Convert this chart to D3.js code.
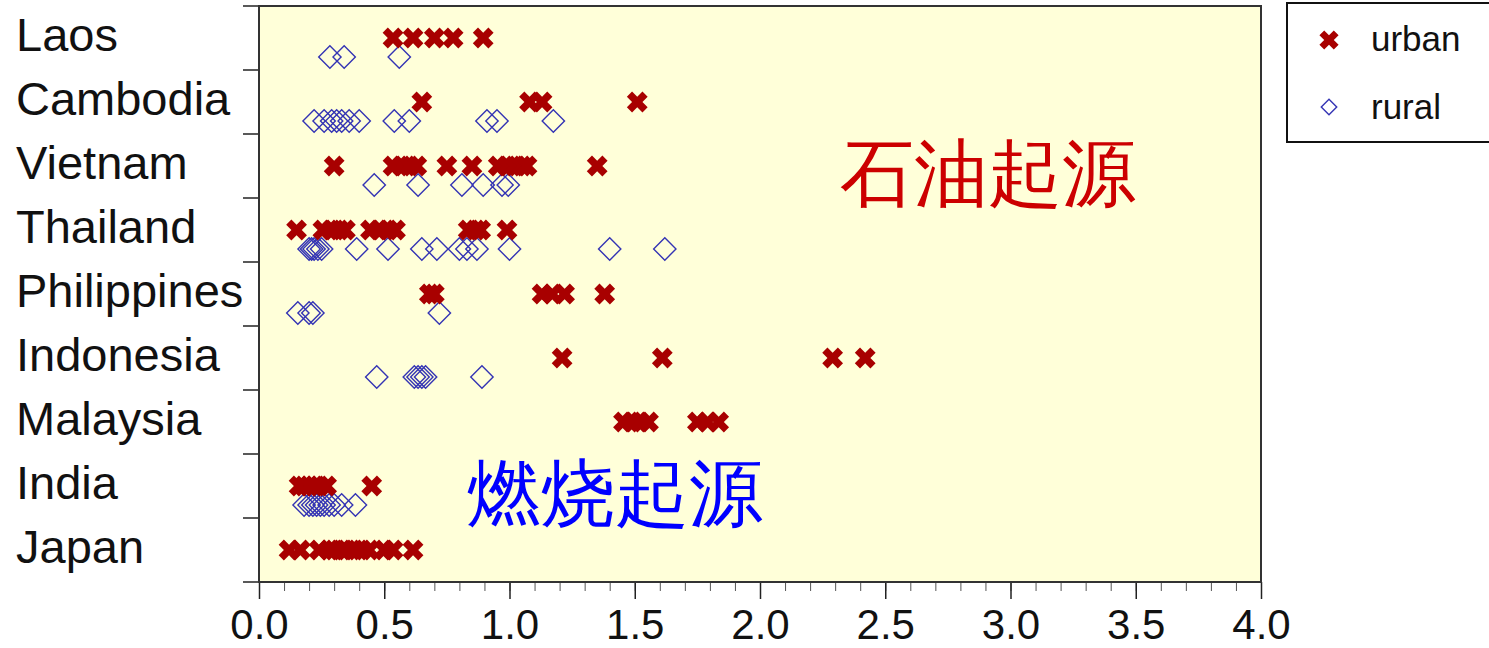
<!DOCTYPE html>
<html>
<head>
<meta charset="utf-8">
<script src="https://cdn.jsdelivr.net/npm/d3@7"></script>
<style>
  body { margin: 0; background: #fff; }
  text { font-family: "Liberation Sans", Arial, sans-serif; }
</style>
</head>
<body>
<div id="chart"></div>
<script>
// categories top to bottom
const countries = ["Laos", "Cambodia", "Vietnam", "Thailand", "Philippines", "Indonesia", "Malaysia", "India", "Japan"];

// urban values per country (same order as countries)
const urbanValues = [
    [0.535, 0.615, 0.70, 0.775, 0.895],
    [0.65, 1.08, 1.13, 1.51],
    [0.30, 0.535, 0.57, 0.60, 0.63, 0.75, 0.85, 0.955, 0.99, 1.02, 1.05, 1.07, 1.35],
    [0.15, 0.255, 0.29, 0.32, 0.345, 0.445, 0.48, 0.515, 0.545, 0.835, 0.865, 0.885, 0.99],
    [0.68, 0.70, 1.13, 1.17, 1.22, 1.38],
    [1.21, 1.61, 2.29, 2.42],
    [1.455, 1.49, 1.52, 1.555, 1.75, 1.79, 1.835],
    [0.16, 0.18, 0.20, 0.22, 0.24, 0.27, 0.45],
    [0.12, 0.165, 0.24, 0.28, 0.30, 0.33, 0.35, 0.38, 0.41, 0.44, 0.50, 0.535, 0.615]
];

// rural values per country
const ruralValues = [
    [0.283, 0.34, 0.56],
    [0.22, 0.26, 0.29, 0.31, 0.33, 0.36, 0.40, 0.54, 0.60, 0.91, 0.95, 1.175],
    [0.46, 0.635, 0.81, 0.895, 0.97, 0.995],
    [0.20, 0.21, 0.22, 0.235, 0.25, 0.39, 0.515, 0.65, 0.71, 0.80, 0.83, 0.87, 1.0, 1.40, 1.62],
    [0.155, 0.20, 0.215, 0.72],
    [0.47, 0.62, 0.635, 0.65, 0.665, 0.89],
    [],
    [0.18, 0.20, 0.215, 0.23, 0.245, 0.26, 0.28, 0.30, 0.33, 0.385],
    []
];

const xTicks = [0, 0.5, 1.0, 1.5, 2.0, 2.5, 3.0, 3.5, 4.0];
const seriesNames = ["urban", "rural"];

// annotations: text, x value, country row
const annotations = [
    {text: "石油起源", x: 2.32, row: "Vietnam", color: "#cc0000"},
    {text: "燃烧起源", x: 0.83, row: "India", color: "#0000ff"}
];

const W = 1489, H = 648;
const plot = {left: 259, right: 1261, top: 6, bottom: 582};

const svg = d3.select("#chart").append("svg")
    .attr("width", W)
    .attr("height", H);

const xScale = d3.scaleLinear().domain([0, 4]).range([plot.left, plot.right]);
const yScale = d3.scaleBand().domain(countries).range([plot.top, plot.bottom]).padding(0);
const seriesOffset = d3.scaleOrdinal().domain(seriesNames).range([0, 19]);

// plot background
svg.append("rect")
    .attr("x", plot.left).attr("y", plot.top)
    .attr("width", plot.right - plot.left).attr("height", plot.bottom - plot.top)
    .attr("fill", "#ffffd9");

// x axis with minor ticks
const xAxisG = svg.append("g").attr("transform", `translate(0, ${plot.bottom})`);
xAxisG.append("g")
    .call(d3.axisBottom(xScale).tickValues(d3.range(0, 4.0001, 0.1)).tickSize(9).tickFormat(""))
    .call(g => g.select(".domain").remove())
    .call(g => g.selectAll("line").attr("stroke", "#555").attr("stroke-width", 1));
xAxisG.append("g")
    .call(d3.axisBottom(xScale).tickValues(xTicks).tickSize(17).tickPadding(10).tickFormat(d3.format(".1f")))
    .call(g => g.select(".domain").remove())
    .call(g => g.selectAll("line").attr("stroke", "#222").attr("stroke-width", 1.5))
    .call(g => g.selectAll("text").attr("font-size", 42).attr("fill", "#111")
        .attr("font-family", "'Liberation Sans', Arial, sans-serif")
        .attr("dy", "0.71em"));

// y ticks at band boundaries
const yBounds = countries.map(c => yScale(c)).concat([plot.bottom]);
svg.selectAll(".ytick")
    .data(yBounds)
    .join("line")
    .attr("class", "ytick")
    .attr("x1", plot.left - 16).attr("x2", plot.left)
    .attr("y1", d => d).attr("y2", d => d)
    .attr("stroke", "#222").attr("stroke-width", 1.5);

// y labels
svg.selectAll(".ylabel")
    .data(countries)
    .join("text")
    .attr("class", "ylabel")
    .attr("x", 16)
    .attr("y", d => yScale(d) + yScale.bandwidth() / 2 - 3)
    .attr("dy", "0.35em")
    .attr("font-size", 47)
    .attr("fill", "#111")
    .text(d => d);

// flatten points
const points = [];
countries.forEach((c, i) => {
    urbanValues[i].forEach(v => points.push({country: c, series: "urban", value: v}));
    ruralValues[i].forEach(v => points.push({country: c, series: "rural", value: v}));
});

const crossPath = d3.symbol().type(d3.symbolCross).size(270)();
const diamondPath = d3.symbol().type(d3.symbolSquare).size(250)();

const cy = d => yScale(d.country) + yScale.bandwidth() / 2 + seriesOffset(d.series);

// rural first then urban
svg.selectAll(".rural")
    .data(points.filter(d => d.series === "rural"))
    .join("path")
    .attr("class", "rural")
    .attr("d", diamondPath)
    .attr("transform", d => `translate(${xScale(d.value)}, ${cy(d)}) rotate(45)`)
    .attr("fill", "none")
    .attr("stroke", "#3434b4")
    .attr("stroke-width", 1.4);

svg.selectAll(".urban")
    .data(points.filter(d => d.series === "urban"))
    .join("path")
    .attr("class", "urban")
    .attr("d", crossPath)
    .attr("transform", d => `translate(${xScale(d.value)}, ${cy(d)}) rotate(45)`)
    .attr("fill", "#a80000");

// annotations
svg.selectAll(".anno")
    .data(annotations)
    .join("text")
    .attr("class", "anno")
    .attr("x", d => xScale(d.x))
    .attr("y", d => yScale(d.row) + yScale.bandwidth() / 2 + 33)
    .attr("font-family", "'Noto Sans CJK SC', sans-serif")
    .attr("font-size", 74)
    .attr("fill", d => d.color)
    .text(d => d.text);

// plot frame
svg.append("rect")
    .attr("x", plot.left).attr("y", plot.top)
    .attr("width", plot.right - plot.left).attr("height", plot.bottom - plot.top)
    .attr("fill", "none")
    .attr("stroke", "#333")
    .attr("stroke-width", 2);

// legend
const legend = svg.append("g").attr("transform", "translate(1287, 3)");
legend.append("rect")
    .attr("width", 210).attr("height", 139)
    .attr("fill", "#fff").attr("stroke", "#111").attr("stroke-width", 2);
legend.append("path")
    .attr("d", d3.symbol().type(d3.symbolCross).size(230)())
    .attr("transform", "translate(42, 37) rotate(45)")
    .attr("fill", "#a80000");
legend.append("path")
    .attr("d", d3.symbol().type(d3.symbolSquare).size(120)())
    .attr("transform", "translate(42, 104) rotate(45)")
    .attr("fill", "none").attr("stroke", "#3434b4").attr("stroke-width", 1.4);
legend.selectAll(".legText")
    .data(seriesNames)
    .join("text")
    .attr("class", "legText")
    .attr("x", 84)
    .attr("y", (d, i) => 36 + i * 68)
    .attr("dy", "0.35em")
    .attr("font-size", 35)
    .attr("fill", "#111")
    .text(d => d);
</script>
</body>
</html>
